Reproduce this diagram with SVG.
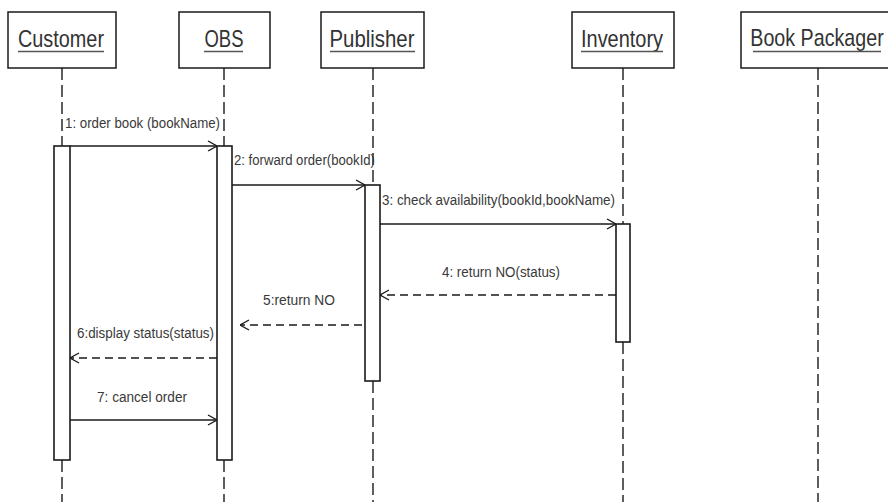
<svg xmlns="http://www.w3.org/2000/svg" width="888" height="502" viewBox="0 0 888 502">
  <style>
    .box { fill: #ffffff; stroke: #1a1a1a; stroke-width: 1.5; }
    .act { fill: #ffffff; stroke: #1a1a1a; stroke-width: 1.6; }
    .life { stroke: #1a1a1a; stroke-width: 1.4; stroke-dasharray: 12 5; fill: none; }
    .head { font-family: "Liberation Sans", Arial, sans-serif; font-size: 24px; fill: #333333; }
    .ul { stroke: #555555; stroke-width: 1.6; }
    .lbl { font-family: "Liberation Sans", Arial, sans-serif; font-size: 15.5px; fill: #3a3a3a; }
    .msg { stroke: #1a1a1a; stroke-width: 1.5; fill: none; }
    .ret { stroke: #1a1a1a; stroke-width: 1.5; fill: none; stroke-dasharray: 8 5; }
  </style>
  <defs>
    <marker id="open" viewBox="0 0 10 12" refX="10" refY="6" markerWidth="10" markerHeight="12" markerUnits="userSpaceOnUse" orient="auto">
      <path d="M1,1 L10,6 L1,11" fill="none" stroke="#1a1a1a" stroke-width="1.4"/>
    </marker>
  </defs>

  <rect width="888" height="502" fill="#ffffff"/>

  <!-- lifelines -->
  <g id="lifelines">
    <line class="life" x1="62" y1="68" x2="62" y2="146"/>
    <line class="life" x1="62" y1="460" x2="62" y2="502"/>
    <line class="life" x1="224" y1="68" x2="224" y2="146"/>
    <line class="life" x1="224" y1="460" x2="224" y2="502"/>
    <line class="life" x1="373" y1="68" x2="373" y2="185"/>
    <line class="life" x1="373" y1="381" x2="373" y2="502"/>
    <line class="life" x1="623" y1="68" x2="623" y2="224"/>
    <line class="life" x1="623" y1="342" x2="623" y2="502"/>
    <line class="life" x1="818" y1="68" x2="818" y2="502"/>
  </g>

  <!-- objects -->
  <g id="customer">
    <rect class="box" x="8" y="12" width="108" height="56"/>
    <text class="head" x="61" y="47" text-anchor="middle" textLength="86" lengthAdjust="spacingAndGlyphs">Customer</text>
    <line class="ul" x1="18" y1="51.5" x2="104" y2="51.5"/>
    <rect class="act" x="54" y="146" width="16" height="314"/>
  </g>
  <g id="obs">
    <rect class="box" x="179" y="12" width="91" height="56"/>
    <text class="head" x="224" y="47" text-anchor="middle" textLength="39" lengthAdjust="spacingAndGlyphs">OBS</text>
    <line class="ul" x1="204" y1="51.5" x2="243" y2="51.5"/>
    <rect class="act" x="217" y="146" width="15" height="314"/>
  </g>
  <g id="publisher">
    <rect class="box" x="321" y="12" width="103" height="56"/>
    <text class="head" x="372" y="47" text-anchor="middle" textLength="85" lengthAdjust="spacingAndGlyphs">Publisher</text>
    <line class="ul" x1="330" y1="51.5" x2="415" y2="51.5"/>
    <rect class="act" x="365" y="185" width="15" height="196"/>
  </g>
  <g id="inventory">
    <rect class="box" x="572" y="12" width="102" height="56"/>
    <text class="head" x="622" y="47" text-anchor="middle" textLength="82" lengthAdjust="spacingAndGlyphs">Inventory</text>
    <line class="ul" x1="581" y1="51.5" x2="663" y2="51.5"/>
    <rect class="act" x="616" y="224" width="14" height="118"/>
  </g>
  <g id="book-packager">
    <rect class="box" x="741" y="12" width="154" height="56"/>
    <!-- narrowed by a horizontal scale so the name fits inside the window -->
    <g transform="translate(817 46) scale(0.82 1)">
      <text class="head" x="0" y="0" text-anchor="middle">Book Packager</text>
    </g>
    <line class="ul" x1="753" y1="51.5" x2="881" y2="51.5"/>
  </g>

  <!-- messages -->
  <g id="connectors">
    <line class="msg" x1="70" y1="146" x2="217" y2="146" marker-end="url(#open)"/>
    <line class="msg" x1="232" y1="185" x2="365" y2="185" marker-end="url(#open)"/>
    <line class="msg" x1="380" y1="224" x2="616" y2="224" marker-end="url(#open)"/>
    <line class="ret" x1="616" y1="295" x2="380" y2="295" marker-end="url(#open)"/>
    <line class="ret" x1="362" y1="325" x2="240" y2="325" marker-end="url(#open)"/>
    <line class="ret" x1="217" y1="358" x2="70" y2="358" marker-end="url(#open)"/>
    <line class="msg" x1="70" y1="420" x2="217" y2="420" marker-end="url(#open)"/>
  </g>

  <!-- message labels -->
  <g id="labels">
    <text class="lbl" x="65" y="128" textLength="155" lengthAdjust="spacingAndGlyphs">1: order book (bookName)</text>
    <text class="lbl" x="234" y="165" textLength="141" lengthAdjust="spacingAndGlyphs">2: forward order(bookId)</text>
    <text class="lbl" x="382" y="205" textLength="233" lengthAdjust="spacingAndGlyphs">3: check availability(bookId,bookName)</text>
    <text class="lbl" x="442" y="277" textLength="118" lengthAdjust="spacingAndGlyphs">4: return NO(status)</text>
    <text class="lbl" x="263" y="305" textLength="72" lengthAdjust="spacingAndGlyphs">5:return NO</text>
    <text class="lbl" x="77" y="338" textLength="137" lengthAdjust="spacingAndGlyphs">6:display status(status)</text>
    <text class="lbl" x="97" y="402" textLength="90" lengthAdjust="spacingAndGlyphs">7: cancel order</text>
  </g>
</svg>
